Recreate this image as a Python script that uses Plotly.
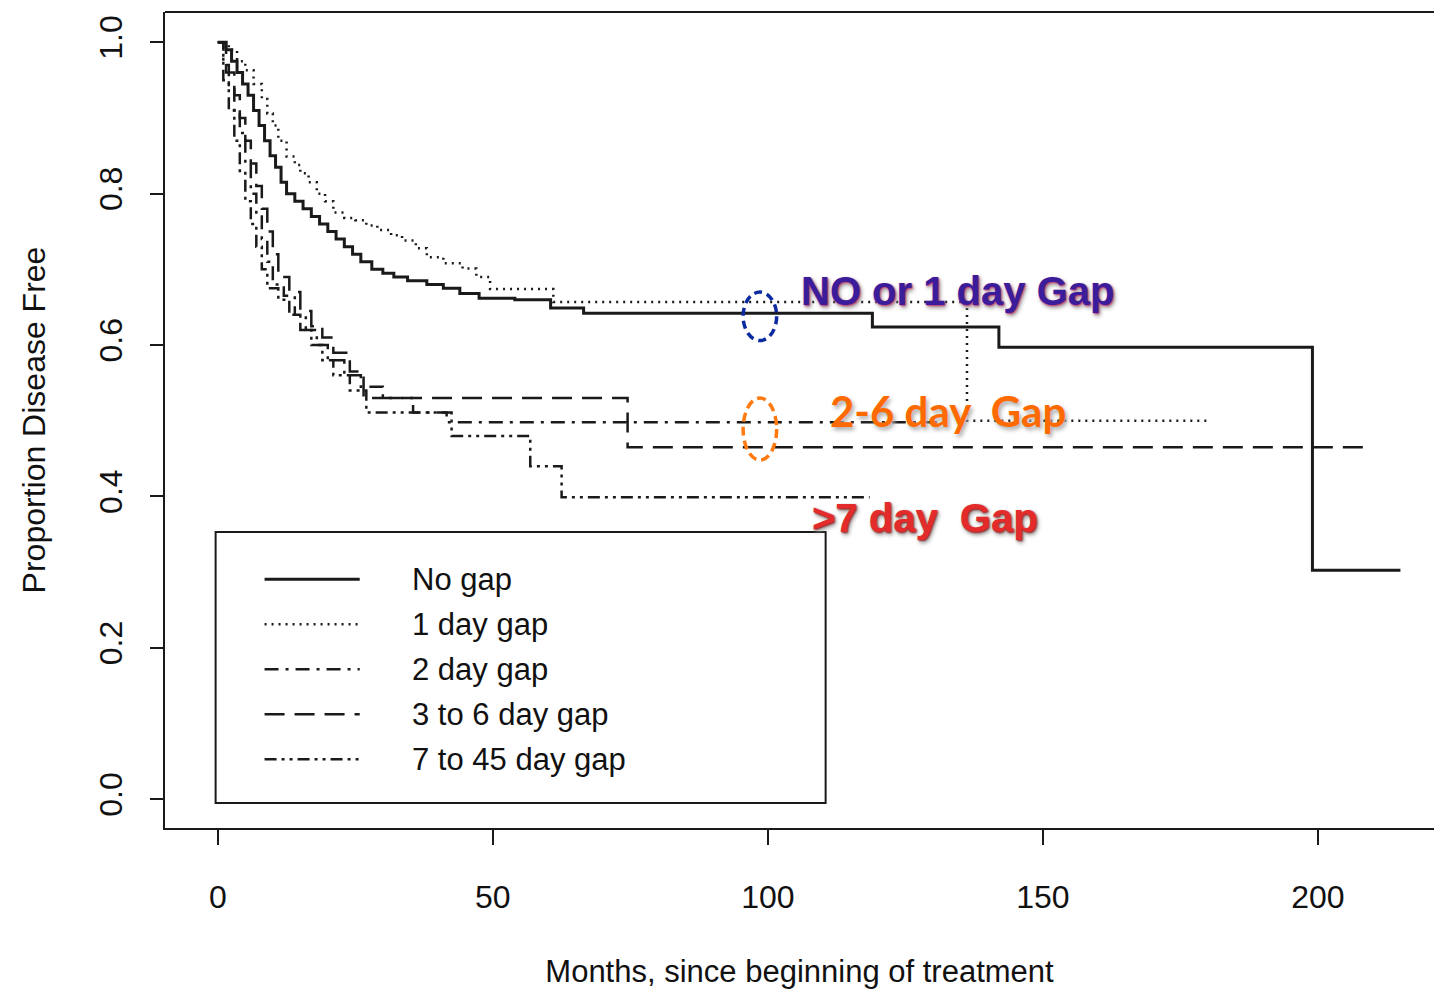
import plotly.graph_objects as go

# ---------------- data (Kaplan-Meier step curves) ----------------
no_gap_t = [0, 1.5, 2.5, 3.5, 4.5, 5.5, 6.5, 7.5, 8.5, 9.5, 10.5, 11.5, 12.5, 14, 15.5, 17, 18.5, 20,
            21.5, 23, 24.5, 26, 28, 30, 32, 34.5, 38, 41, 44, 47.5, 54, 60.5, 66.5, 119, 142, 199, 215]
no_gap_s = [1.0, 0.99, 0.975, 0.96, 0.945, 0.93, 0.91, 0.89, 0.87, 0.85, 0.835, 0.815, 0.80, 0.79, 0.78, 0.77,
            0.76, 0.75, 0.74, 0.73, 0.72, 0.71, 0.70, 0.695, 0.69, 0.685, 0.68, 0.675, 0.668, 0.662, 0.660,
            0.649, 0.642, 0.624, 0.597, 0.3025, 0.3025]

day1_t = [0, 2, 3.5, 5, 6.5, 8, 9, 10, 11, 12.5, 14, 15, 16.5, 18, 19.5, 21, 23, 25, 27, 29, 31.5, 33.5,
          36, 38, 41, 44.5, 47, 49.5, 61, 136.2, 180]
day1_s = [1.0, 0.99, 0.975, 0.963, 0.945, 0.925, 0.906, 0.89, 0.87, 0.849, 0.838, 0.827, 0.815, 0.80, 0.79,
          0.775, 0.768, 0.765, 0.758, 0.752, 0.745, 0.738, 0.728, 0.716, 0.708, 0.701, 0.69, 0.674, 0.657,
          0.50, 0.50]

day2_t = [0, 1, 2, 3, 4, 5, 6, 7, 8, 9, 10, 12, 14, 16, 18, 20, 23, 26, 30, 35.5, 41.6, 133]
day2_s = [1.0, 0.97, 0.94, 0.91, 0.88, 0.84, 0.80, 0.77, 0.74, 0.71, 0.68, 0.665, 0.64, 0.62, 0.60, 0.58,
          0.56, 0.545, 0.53, 0.511, 0.498, 0.498]

day3_6_t = [0, 1.5, 3, 4, 5, 6, 7, 8, 9, 10, 11, 13, 15, 17, 19, 21, 24, 26.5, 74.5, 209.5]
day3_6_s = [1.0, 0.96, 0.93, 0.90, 0.87, 0.84, 0.81, 0.78, 0.75, 0.72, 0.69, 0.67, 0.645, 0.625, 0.61,
            0.59, 0.565, 0.53, 0.465, 0.465]

day7_45_t = [0, 1, 2, 3, 4, 5, 6, 7, 8, 9, 11, 13, 15, 17, 19, 21, 24, 27, 42.5, 56.8, 62.5, 118.5]
day7_45_s = [1.0, 0.95, 0.91, 0.87, 0.83, 0.79, 0.76, 0.73, 0.70, 0.675, 0.66, 0.64, 0.62, 0.60, 0.58,
             0.56, 0.54, 0.511, 0.48, 0.44, 0.399, 0.399]

series_names = ["No gap", "1 day gap", "2 day gap", "3 to 6 day gap", "7 to 45 day gap"]
x_ticks = [0, 50, 100, 150, 200]
y_ticks = [0.0, 0.2, 0.4, 0.6, 0.8, 1.0]
y_ticktext = ["0.0", "0.2", "0.4", "0.6", "0.8", "1.0"]

# ---------------- styles ----------------
INK = "#1a1a1a"
styles = [
    dict(dash="solid", width=3),
    dict(dash="2px,5px", width=2.5),
    dict(dash="14px,7px,3px,7px", width=2.5),
    dict(dash="20px,10px", width=2.5),
    dict(dash="12px,5px,3px,5px,3px,5px", width=2.5),
]
curves = [(no_gap_t, no_gap_s), (day1_t, day1_s), (day2_t, day2_s),
          (day3_6_t, day3_6_s), (day7_45_t, day7_45_s)]

fig = go.Figure()
for (t, s), name, st in zip(curves, series_names, styles):
    fig.add_trace(go.Scatter(x=t, y=s, mode="lines", name=name, line_shape="hv",
                             line=dict(color=INK, width=st["width"], dash=st["dash"]),
                             showlegend=False))

FONT = "Liberation Sans, Arial, sans-serif"

# top frame line (right side of the box is cut off in the original)
fig.add_shape(type="line", x0=0, x1=1.05, y0=1, y1=1, xref="paper", yref="paper",
              line=dict(color=INK, width=2))

# ---------------- manual legend (box, samples, labels) ----------------
fig.add_shape(type="rect", x0=-0.4, x1=110.5, y0=-0.005, y1=0.353, xref="x", yref="y",
              line=dict(color=INK, width=2), fillcolor="white", layer="below")
legend_rows = [0.2906, 0.2312, 0.1717, 0.1123, 0.0528]
for yrow, name, st in zip(legend_rows, series_names, styles):
    fig.add_shape(type="line", x0=8.5, x1=25.8, y0=yrow, y1=yrow, xref="x", yref="y",
                  line=dict(color=INK, width=st["width"], dash=st["dash"]))
    fig.add_annotation(x=34.9, y=yrow, xref="x", yref="y", text=name, showarrow=False,
                       xanchor="left", yanchor="middle",
                       font=dict(family=FONT, size=31, color="#111"))

# ---------------- highlight annotations ----------------
fig.add_annotation(x=134.4, y=0.672, xref="x", yref="y", text="NO or 1 day Gap", showarrow=False,
                   font=dict(family=FONT, size=40, color="#3b1d9c", weight="bold",
                             shadow="1px 1px 2px #c0306a, 2px 3px 4px #999"))
fig.add_annotation(x=132.7, y=0.5125, xref="x", yref="y", text="2-6 day\u00a0\u00a0Gap", showarrow=False,
                   font=dict(family="Lato, Noto Sans, sans-serif", size=42, color="#ff6a00",
                             weight="bold", shadow="2px 3px 4px #aaa"))
fig.add_annotation(x=128.5, y=0.371, xref="x", yref="y", text=">7 day\u00a0\u00a0Gap", showarrow=False,
                   font=dict(family=FONT, size=40, color="#e42b2b", weight="bold",
                             shadow="1px 1px 2px #8a1a1a, 2px 3px 4px #999"))

# ellipses
fig.add_shape(type="circle", x0=95.5, x1=101.6, y0=0.606, y1=0.670, xref="x", yref="y",
              line=dict(color="#0b2aa0", width=3.5, dash="8px,5px"))
fig.add_shape(type="circle", x0=95.5, x1=101.6, y0=0.448, y1=0.530, xref="x", yref="y",
              line=dict(color="#ff7a10", width=3.5, dash="9px,5px"))

# ---------------- layout ----------------
fig.update_layout(
    width=1434, height=996,
    margin=dict(l=165, r=0, t=12, b=168),
    paper_bgcolor="white", plot_bgcolor="white",
    font=dict(family=FONT, color="#111"),
    showlegend=False,
    xaxis=dict(range=[-9.6, 221.1], tickvals=x_ticks, ticks="outside", ticklen=15, tickwidth=2,
               tickcolor=INK, showline=True, linecolor=INK, linewidth=2, mirror=False,
               showgrid=False, zeroline=False, tickfont=dict(size=32, family=FONT, color="#111"),
               ticklabelstandoff=25,
               title=dict(text="Months, since beginning of treatment",
                          font=dict(size=31, family=FONT, color="#111"), standoff=46)),
    yaxis=dict(range=[-0.038, 1.04], tickvals=y_ticks, ticktext=y_ticktext, ticks="outside",
               ticklen=13, tickwidth=2, tickcolor=INK, showline=True, linecolor=INK, linewidth=2,
               mirror=False, showgrid=False, zeroline=False, tickangle=-90,
               tickfont=dict(size=32, family=FONT, color="#111"), ticklabelstandoff=15,
               title=dict(text="Proportion Disease Free",
                          font=dict(size=32, family=FONT, color="#111"), standoff=38)),
)

fig.write_html("out.html", config={"displayModeBar": False},
               post_script="document.body.style.margin='0';document.body.style.overflow='hidden';")
